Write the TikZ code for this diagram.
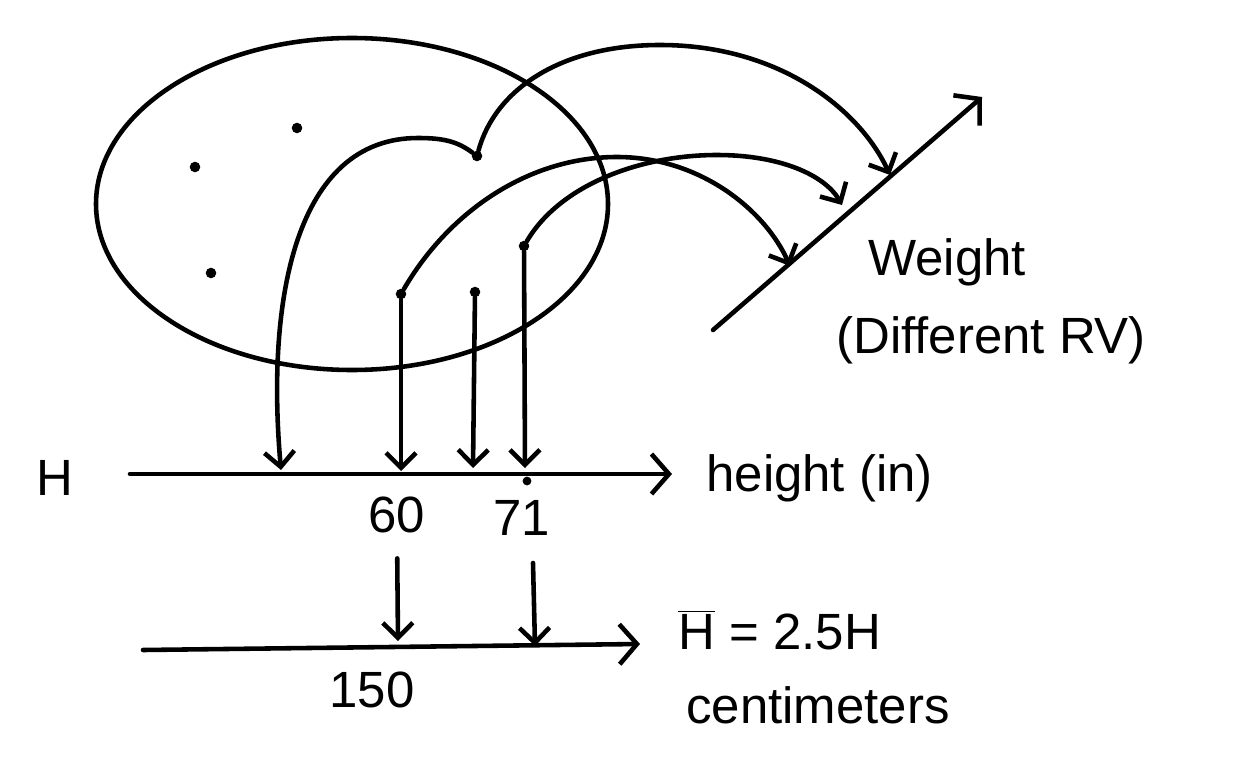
\documentclass[tikz,border=0pt]{standalone}
\usepackage{fontspec}
\setmainfont{Liberation Sans}
\usetikzlibrary{arrows.meta,positioning}
\tikzset{
  stroke/.style={line width=2.6pt, line cap=round, line join=round},
  mapsto/.style={stroke, -{Straight Barb[length=3mm,width=6mm]}},
  axisline/.style={stroke, -{Straight Barb[length=3.5mm,width=8mm]}},
  outcome/.style={circle, fill=black, inner sep=0pt, minimum size=6pt},
  hand/.style={font=\fontsize{29}{34}\selectfont, inner sep=0pt},
}

\begin{document}
\begin{tikzpicture}[x=0.02cm, y=-0.02cm]
  \useasboundingbox (0,0) rectangle (1258,784);
  % sample space
  \draw[stroke] (352,204) ellipse (256 and 166);
  \node[outcome] (w1) at (297,128) {};
  \node[outcome] (w2) at (195,167) {};
  \node[outcome] (w3) at (211,273) {};
  \node[outcome] (w4) at (477,156) {};
  \node[outcome] (w5) at (401,294) {};
  \node[outcome] (w6) at (475,292) {};
  \node[outcome] (w7) at (524,246) {};

  % axes
  \coordinate (hstart) at (130,474);
  \coordinate (hend) at (672,474);
  \coordinate (cstart) at (143,650);
  \coordinate (cend) at (640,644);
  \coordinate (gstart) at (713,330);
  \coordinate (gend) at (982,97);
  \draw[axisline] (hstart) -- (hend);
  \draw[axisline] (cstart) -- (cend);
  \draw[axisline] (gstart) -- (gend);

  % hit points
  \coordinate (h1) at (281,470);
  \coordinate (h2) at (401,471);
  \coordinate (h3) at (473,468);
  \coordinate (h4) at (525,468);
  \coordinate (g1) at (790,266);
  \coordinate (g2) at (842,205);
  \coordinate (g3) at (890,175);
  \node[outcome, minimum size=5pt] (tick71) at (527,481) {};

  % labels
  \node[hand] (hlab) at (55,478) {H};
  \node[hand, anchor=west] (hname) at (706,478) {height (in)};
  \node[hand] (l60) at (397,515) {60};
  \node[hand] (l71) at (522,518) {71};
  \node[hand] (l150) at (372,690) {150};
  \node[hand, anchor=west] (cname) at (678,630) {$\overline{\mbox{H}}$ = 2.5H};
  \node[hand, anchor=west] (cunit) at (686,705) {centimeters};
  \node[hand, anchor=west] (gname) at (868,262) {Weight};
  \node[hand, anchor=west] (gnote) at (836,340) {(Different RV)};

  % height map
  \draw[mapsto] (w4) .. controls (458,142) and (445,138) .. (418,138)
    .. controls (295,138) and (266,300) .. (h1);
  \draw[mapsto] (w5) -- (h2);
  \draw[mapsto] (w6) -- (h3);
  \draw[mapsto] (w7) -- (h4);

  % weight map
  \draw[mapsto] (w4) .. controls (495,90) and (560,45) .. (660,45)
    .. controls (780,45) and (860,110) .. (g3);
  \draw[mapsto] (w5) .. controls (450,210) and (530,157) .. (617,157)
    .. controls (700,157) and (765,210) .. (g1);
  \draw[mapsto] (w7) .. controls (560,185) and (640,155) .. (717,155)
    .. controls (780,155) and (825,175) .. (g2);

  % change of units
  \coordinate (c60) at (398,641);
  \coordinate (c71) at (535,646);
  \coordinate (t71) at (533,563);
  \draw[mapsto, shorten <=0.5cm] (l60.south) -- (c60);
  \draw[mapsto] (t71) -- (c71);
\end{tikzpicture}
\end{document}
